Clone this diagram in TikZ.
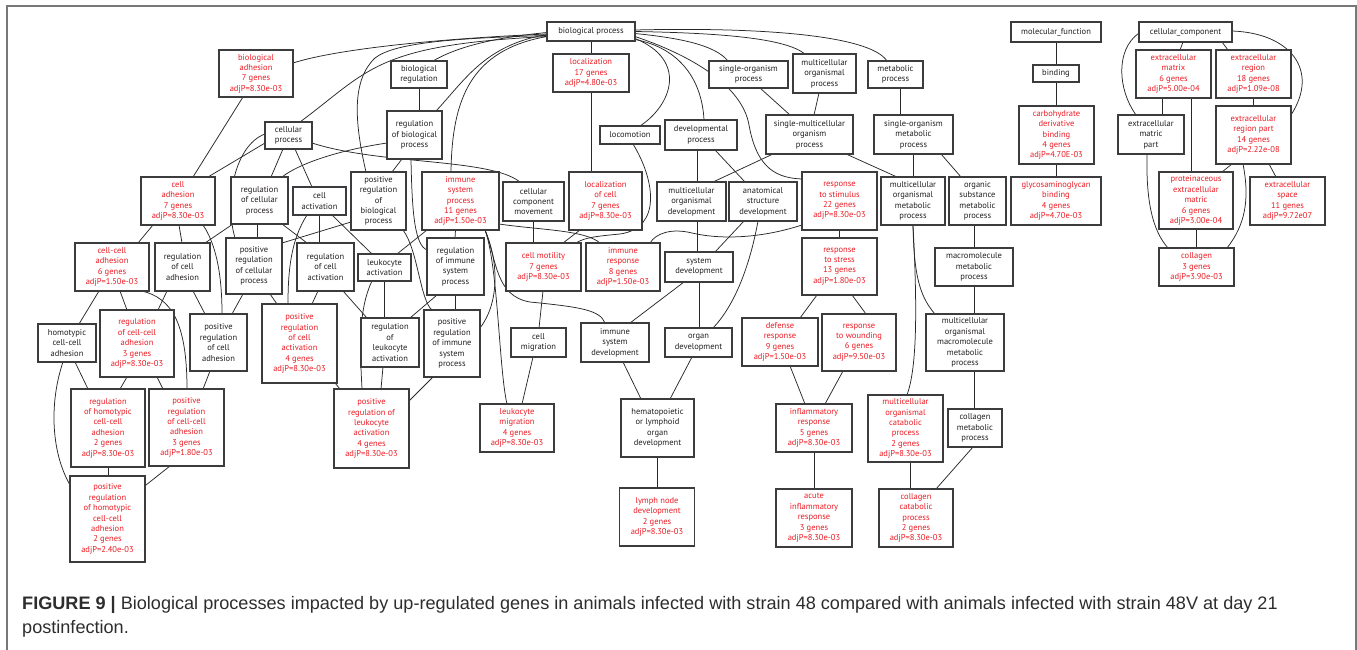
\documentclass[tikz,border=0pt]{standalone}
\usepackage{fontspec}
\usetikzlibrary{backgrounds}
\newfontfamily\gnfam{PT Sans}
\newfontfamily\gcfam{Liberation Sans}
\definecolor{txtk}{RGB}{35,31,32}
\definecolor{txtr}{RGB}{236,28,36}
\definecolor{boxcol}{RGB}{60,60,62}
\definecolor{edgecol}{RGB}{40,40,40}
\definecolor{framecol}{RGB}{120,120,120}
\definecolor{capcol}{RGB}{45,45,45}
\newcommand\gnfont{\gnfam\fontsize{8.5}{10.4}\selectfont}
\tikzset{
  base/.style={draw=boxcol, line width=1.1pt, fill=white, inner sep=0pt, align=center, font=\gnfont},
  kb/.style 2 args={base, text=txtk, minimum width=#1pt, minimum height=#2pt},
  rb/.style 2 args={base, text=txtr, minimum width=#1pt, minimum height=#2pt},
  ln/.style={draw=edgecol, line width=0.75pt},
  captxt/.style={anchor=base west, inner sep=0pt, text=capcol, font=\gcfam\fontsize{18.1}{20}\selectfont}
}
\begin{document}
\begin{tikzpicture}[x=1pt,y=-1pt]
\useasboundingbox (0,0) rectangle (1357,650);
\draw[framecol, line width=1.3pt] (7,650) -- (7,6) -- (1356,6) -- (1356,650);
% row 1
\node[kb={88}{19}] (bp) at (591,31.5) {biological process};
\node[kb={90}{20}] (mf) at (1056,32) {molecular\_function};
\node[kb={93}{20}] (cc) at (1185.5,32) {cellular\_component};
\node[rb={74}{47}] (bad) at (256,73.5) {biological\\adhesion\\7 genes\\adjP=8.30e-03};
\node[kb={56}{27}] (breg) at (419,74.5) {biological\\regulation};
\node[rb={76}{38}] (loc) at (591,73) {localization\\17 genes\\adjP=4.80e-03};
\node[kb={79}{27}] (sop) at (748.5,74.5) {single-organism\\process};
\node[kb={63}{39}] (mop) at (824.5,73.5) {multicellular\\organismal\\process};
\node[kb={55}{27}] (metp) at (895.5,74.5) {metabolic\\process};
\node[kb={46}{17}] (bind) at (1056,73.5) {binding};
\node[rb={75}{48}] (ecm) at (1173.5,74) {extracellular\\matrix\\6 genes\\adjP=5.00e-04};
\node[rb={75}{48}] (ecr) at (1253.5,74) {extracellular\\region\\18 genes\\adjP=1.09e-08};
% row 2
\node[kb={47}{27}] (cp) at (288.5,135.5) {cellular\\process};
\node[kb={55}{48}] (rbp) at (414.5,135) {regulation\\of biological\\process};
\node[kb={60}{18}] (locm) at (630,135) {locomotion};
\node[kb={72}{30}] (devp) at (701,135) {developmental\\process};
\node[kb={87}{39}] (smop) at (809.5,134.5) {single-multicellular\\organism\\process};
\node[kb={79}{39}] (somp) at (913.5,134.5) {single-organism\\metabolic\\process};
\node[rb={75}{58}] (cdb) at (1056.5,135) {carbohydrate\\derivative\\binding\\4 genes\\adjP=4.70E-03};
\node[kb={66}{39}] (ecmp) at (1151,134.5) {extracellular\\matric\\part};
\node[rb={75}{58}] (ecrp) at (1253.5,135) {extracellular\\region part\\14 genes\\adjP=2.22e-08};
% row 3
\node[rb={74}{48}] (cad) at (178,201) {cell\\adhesion\\7 genes\\adjP=8.30e-03};
\node[kb={57}{47}] (rcp) at (259.5,200.5) {regulation\\of cellular\\process};
\node[kb={53}{28}] (cact) at (319.5,201) {cell\\activation};
\node[kb={55}{58}] (prbp) at (378.5,201) {positive\\regulation\\of\\biological\\process};
\node[rb={77}{58}] (isp) at (460.5,201) {immune\\system\\process\\11 genes\\adjP=1.50e-03};
\node[kb={61}{39}] (ccm) at (533.5,201.5) {cellular\\component\\movement};
\node[rb={73}{58}] (locc) at (605.5,201) {localization\\of cell\\7 genes\\adjP=8.30e-03};
\node[kb={69}{39}] (mod) at (691.5,201.5) {multicellular\\organismal\\development};
\node[kb={68}{39}] (asd) at (763,201.5) {anatomical\\structure\\development};
\node[rb={75}{58}] (rstim) at (839.5,201) {response\\to stimulus\\22 genes\\adjP=8.30e-03};
\node[kb={64}{48}] (mompm) at (913,201) {multicellular\\organismal\\metabolic\\process};
\node[kb={57}{48}] (osmp) at (977.5,201) {organic\\substance\\metabolic\\process};
\node[rb={90}{48}] (gagb) at (1056,201) {glycosaminoglycan\\binding\\4 genes\\adjP=4.70e-03};
\node[rb={74}{57}] (pecm) at (1196,200.5) {proteinaceous\\extracellular\\matric\\6 genes\\adjP=3.00e-04};
\node[rb={75}{48}] (ecs) at (1287.5,201) {extracellular\\space\\11 genes\\adjP=9.72e07};
% row 4
\node[rb={74}{48}] (cca) at (112,267) {cell-cell\\adhesion\\6 genes\\adjP=1.50e-03};
\node[kb={55}{48}] (rca) at (182.5,267) {regulation\\of cell\\adhesion};
\node[kb={56}{56}] (prcp) at (254,266) {positive\\regulation\\of cellular\\process};
\node[kb={57}{48}] (rcact) at (325.5,267) {regulation\\of cell\\activation};
\node[kb={53}{27}] (lact) at (384.5,267.5) {leukocyte\\activation};
\node[kb={57}{57}] (risp) at (455.5,266.5) {regulation\\of immune\\system\\process};
\node[rb={75}{48}] (cmot) at (543.5,267) {cell motility\\7 genes\\adjP=8.30e-03};
\node[rb={74}{48}] (iresp) at (623,267) {immune\\response\\8 genes\\adjP=1.50e-03};
\node[kb={68}{30}] (sysd) at (699,267) {system\\development};
\node[rb={75}{57}] (rstr) at (839.5,266.5) {response\\to stress\\13 genes\\adjP=1.80e-03};
\node[kb={78}{38}] (mmp) at (974,267) {macromolecule\\metabolic\\process};
\node[rb={75}{38}] (coll) at (1196.5,267) {collagen\\3 genes\\adjP=3.90e-03};
% row 5
\node[kb={58}{38}] (hcca) at (67,343) {homotypic\\cell-cell\\adhesion};
\node[rb={74}{67}] (rcca) at (137,343.5) {regulation\\of cell-cell\\adhesion\\3 genes\\adjP=8.30e-03};
\node[kb={57}{57}] (prca) at (218.5,342.5) {positive\\regulation\\of cell\\adhesion};
\node[rb={75}{79}] (prcact) at (299.5,343.5) {positive\\regulation\\of cell\\activation\\4 genes\\adjP=8.30e-03};
\node[kb={58}{49}] (rlact) at (390,342.5) {regulation\\of\\leukocyte\\activation};
\node[kb={56}{67}] (prisp) at (452,343.5) {positive\\regulation\\of immune\\system\\process};
\node[kb={55}{29}] (cmig) at (538.5,342.5) {cell\\migration};
\node[kb={68}{39}] (isd) at (615,342.5) {immune\\system\\development};
\node[kb={67}{29}] (orgd) at (698.5,342.5) {organ\\development};
\node[rb={76}{48}] (defr) at (780,342) {defense\\response\\9 genes\\adjP=1.50e-03};
\node[rb={74}{57}] (rwound) at (859,342.5) {response\\to wounding\\6 genes\\adjP=9.50e-03};
\node[kb={78}{57}] (mommp) at (965,342.5) {multicellular\\organismal\\macromolecule\\metabolic\\process};
% row 6
\node[rb={74}{78}] (rhcca) at (108,428) {regulation\\of homotypic\\cell-cell\\adhesion\\2 genes\\adjP=8.30e-03};
\node[rb={75}{77}] (prcca) at (186.5,427.5) {positive\\regulation\\of cell-cell\\adhesion\\3 genes\\adjP=1.80e-03};
\node[rb={75}{79}] (prlact) at (371.5,428.5) {positive\\regulation of\\leukocyte\\activation\\4 genes\\adjP=8.30e-03};
\node[rb={74}{48}] (lmig) at (517,428) {leukocyte\\migration\\4 genes\\adjP=8.30e-03};
\node[kb={73}{58}] (hem) at (657.5,428) {hematopoietic\\or lymphoid\\organ\\development};
\node[rb={76}{48}] (infl) at (814,428) {inflammatory\\response\\5 genes\\adjP=8.30e-03};
\node[rb={75}{67}] (mocp) at (905.5,428.5) {multicellular\\organismal\\catabolic\\process\\2 genes\\adjP=8.30e-03};
\node[kb={54}{38}] (cmp) at (975,428) {collagen\\metabolic\\process};
% row 7
\node[rb={75}{86}] (prhcca) at (107.5,519) {positive\\regulation\\of homotypic\\cell-cell\\adhesion\\2 genes\\adjP=2.40e-03};
\node[rb={75}{58}] (lymph) at (657,517) {lymph node\\development\\2 genes\\adjP=8.30e-03};
\node[rb={76}{58}] (acute) at (814,518) {acute\\inflammatory\\response\\3 genes\\adjP=8.30e-03};
\node[rb={74}{58}] (colcat) at (916,518) {collagen\\catabolic\\process\\2 genes\\adjP=8.30e-03};
% caption
\node[captxt] (cap1) at (22,609) {\textbf{FIGURE 9 |} Biological processes impacted by up-regulated genes in animals infected with strain 48 compared with animals infected with strain 48V at day 21};
\node[captxt] (cap2) at (22,633) {postinfection.};
\begin{pgfonlayer}{background}
% from biological process
\draw[ln] (bp.south) -- (loc.north);
\draw[ln] ([shift={(-44,2.5)}]bp.center) .. controls (450,38) and (340,48) .. ([shift={(37,-10.5)}]bad.center);
\draw[ln] ([shift={(11.5,-13.5)}]cp.center) .. controls (370,70) and (375,45) .. ([shift={(-44,5)}]bp.center);
\draw[ln] ([shift={(-12.5,-29)}]prbp.center) .. controls (354,120) and (352,80) .. (375,58) .. controls (395,42) and (460,38) .. ([shift={(-44,4)}]bp.center);
\draw[ln] ([shift={(14,-13.5)}]breg.center) .. controls (455,48) and (490,38) .. ([shift={(-44,1)}]bp.center);
\draw[ln] ([shift={(21.5,-24)}]rbp.center) .. controls (465,80) and (485,45) .. ([shift={(-44,3)}]bp.center);
\draw[ln] ([shift={(-9.5,-29)}]isp.center) .. controls (452,100) and (470,50) .. ([shift={(-44,5)}]bp.center);
\draw[ln] ([shift={(10,-9)}]locm.center) .. controls (672,105) and (688,60) .. ([shift={(44,7)}]bp.center);
\draw[ln] ([shift={(3,-15)}]devp.center) .. controls (702,80) and (680,48) .. ([shift={(44,8)}]bp.center);
\draw[ln] ([shift={(44,2)}]bp.center) .. controls (680,38) and (715,45) .. ([shift={(-20.5,-13.5)}]sop.center);
\draw[ln] ([shift={(44,0)}]bp.center) .. controls (720,33) and (785,38) .. ([shift={(-19.5,-19.5)}]mop.center);
\draw[ln] ([shift={(44,-1.5)}]bp.center) .. controls (760,27) and (870,35) .. ([shift={(-8.5,-13.5)}]metp.center);
\draw[ln] ([shift={(44,5)}]bp.center) .. controls (690,55) and (742,85) .. (749,125) .. controls (757,170) and (778,178) .. ([shift={(-37.5,-22)}]rstim.center);
% left part
\draw[ln] (breg.south) -- (breg.south |- rbp.north);
\draw[ln] ([shift={(-13,23.5)}]bad.center) -- ([shift={(15,-24)}]cad.center);
\draw[ln] ([shift={(-23.5,7.5)}]cp.center) -- ([shift={(30,-24)}]cad.center);
\draw[ln] ([shift={(-23.5,-1.5)}]cp.center) .. controls (235,145) and (224,200) .. ([shift={(-19,-28)}]prcp.center);
\draw[ln] ([shift={(11.5,-23.5)}]rcp.center) -- ([shift={(-5.5,13.5)}]cp.center);
\draw[ln] ([shift={(6.5,13.5)}]cp.center) -- ([shift={(-7.5,-14)}]cact.center);
\draw[ln] ([shift={(23.5,7.5)}]cp.center) .. controls (380,165) and (490,158) .. ([shift={(-13.5,-19.5)}]ccm.center);
\draw[ln] ([shift={(-27.5,8)}]rbp.center) .. controls (340,150) and (300,163) .. ([shift={(22.5,-23.5)}]rcp.center);
\draw[ln] ([shift={(-12.5,24)}]rbp.center) -- ([shift={(13.5,-29)}]prbp.center);
\draw[ln] ([shift={(-3.5,24)}]rbp.center) .. controls (412,215) and (415,245) .. ([shift={(-28.5,-16.5)}]risp.center);
\draw[ln] ([shift={(24.5,29)}]prbp.center) .. controls (418,250) and (420,300) .. ([shift={(-20,-33.5)}]prisp.center);
\draw[ln] ([shift={(-27.5,21)}]prbp.center) -- ([shift={(28,-23)}]prcp.center);
\draw[ln] ([shift={(-2.5,23.5)}]rcp.center) -- ([shift={(3,-28)}]prcp.center);
\draw[ln] ([shift={(-26.5,23.5)}]rcp.center) -- ([shift={(22.5,-24)}]rca.center);
\draw[ln] ([shift={(25,24)}]cad.center) .. controls (220,250) and (222,290) .. ([shift={(3.5,-28.5)}]prca.center);
\draw[ln] ([shift={(-25,24)}]cad.center) -- ([shift={(26,-24)}]cca.center);
\draw[ln] ([shift={(1,24)}]cad.center) -- ([shift={(-0.5,-24)}]rca.center);
\draw[ln] ([shift={(-11,28)}]prcp.center) -- ([shift={(13.5,-28.5)}]prca.center);
\draw[ln] ([shift={(16,28)}]prcp.center) -- ([shift={(-22.5,-39.5)}]prcact.center);
\draw[ln] ([shift={(22.5,23.5)}]rcp.center) -- ([shift={(-18.5,-24)}]rcact.center);
\draw[ln] (cact.south) -- (cact.south |- rcact.north);
\draw[ln] ([shift={(-12.5,14)}]cact.center) .. controls (291,240) and (288,270) .. ([shift={(-11.5,-39.5)}]prcact.center);
\draw[ln] ([shift={(12.5,14)}]cact.center) -- ([shift={(-12.5,-13.5)}]lact.center);
\draw[ln] ([shift={(-7.5,24)}]rcact.center) -- ([shift={(12.5,-39.5)}]prcact.center);
\draw[ln] ([shift={(17.5,24)}]rcact.center) -- ([shift={(-23,-24.5)}]rlact.center);
\draw[ln] ([shift={(-33.5,29)}]isp.center) -- ([shift={(12.5,-13.5)}]lact.center);
\draw[ln] (lact.south) -- (lact.south |- rlact.north);
\draw[ln] ([shift={(-12.5,13.5)}]lact.center) .. controls (358,310) and (360,350) .. ([shift={(-9.5,-39.5)}]prlact.center);
\draw[ln] ([shift={(20,-24.5)}]rlact.center) -- ([shift={(-18.5,28.5)}]risp.center);
\draw[ln] ([shift={(-7,24.5)}]rlact.center) -- ([shift={(9.5,-39.5)}]prlact.center);
\draw[ln] ([shift={(35.5,39.5)}]prcact.center) -- ([shift={(-31.5,-39.5)}]prlact.center);
\draw[ln] ([shift={(-19,33.5)}]prisp.center) -- ([shift={(37.5,-27.5)}]prlact.center);
\draw[ln] ([shift={(-5,29)}]isp.center) -- ([shift={(-0.5,-28.5)}]risp.center);
\draw[ln] (risp.south) -- (risp.south |- prisp.north);
\draw[ln] ([shift={(24.5,29)}]isp.center) .. controls (500,265) and (498,305) .. ([shift={(28,-15.5)}]prisp.center);
\draw[ln] ([shift={(24.5,29)}]isp.center) .. controls (497,260) and (495,296) .. (530,302) .. controls (580,307) and (600,310) .. ([shift={(-10,-19.5)}]isd.center);
\draw[ln] ([shift={(24.5,29)}]isp.center) .. controls (498,265) and (499,370) .. ([shift={(-10,-24)}]lmig.center);
\draw[ln] ([shift={(38.5,23)}]isp.center) .. controls (540,230) and (585,230) .. ([shift={(-23,-24)}]iresp.center);
\draw[ln] (ccm.south) -- (ccm.south |- cmot.north);
\draw[ln] ([shift={(-25.5,29)}]locc.center) -- ([shift={(19.5,-24)}]cmot.center);
\draw[ln] ([shift={(3,9)}]locm.center) .. controls (655,180) and (662,228) .. (620,234) .. controls (600,236) and (585,237) .. ([shift={(32.5,-24)}]cmot.center);
\draw[ln] ([shift={(-37.5,24)}]rstim.center) .. controls (762,238) and (722,240) .. (692,233) .. controls (672,228) and (656,233) .. ([shift={(27,-24)}]iresp.center);
\draw[ln] (loc.south) -- (loc.south |- locc.north);
\draw[ln] ([shift={(-0.5,24)}]cmot.center) -- ([shift={(0.5,-14.5)}]cmig.center);
\draw[ln] ([shift={(-5.5,14.5)}]cmig.center) -- ([shift={(5,-24)}]lmig.center);
% development / organism
\draw[ln] ([shift={(-4,15)}]devp.center) -- ([shift={(5.5,-19.5)}]mod.center);
\draw[ln] ([shift={(14,15)}]devp.center) -- ([shift={(-18,-19.5)}]asd.center);
\draw[ln] ([shift={(11.5,13.5)}]sop.center) -- ([shift={(-19.5,-19.5)}]smop.center);
\draw[ln] ([shift={(-5.5,19.5)}]mop.center) -- ([shift={(4.5,-19.5)}]smop.center);
\draw[ln] ([shift={(-36.5,19.5)}]smop.center) -- ([shift={(21.5,-19.5)}]mod.center);
\draw[ln] ([shift={(36.5,19.5)}]smop.center) -- ([shift={(-16,-24)}]mompm.center);
\draw[ln] ([shift={(4.5,13.5)}]metp.center) -- ([shift={(-13.5,-19.5)}]somp.center);
\draw[ln] (somp.south) -- (somp.south |- mompm.north);
\draw[ln] ([shift={(27.5,19.5)}]somp.center) -- ([shift={(-16.5,-24)}]osmp.center);
\draw[ln] (mompm.south) .. controls (914,270) and (918,295) .. ([shift={(-30,-28.5)}]mommp.center);
\draw[ln] (mompm.south) .. controls (918,320) and (916,370) .. ([shift={(1.5,-33.5)}]mocp.center);
\draw[ln] ([shift={(-3.5,24)}]osmp.center) -- (mmp.north);
\draw[ln] (mmp.south) -- (mmp.south |- mommp.north);
\draw[ln] ([shift={(9,28.5)}]mommp.center) -- ([shift={(-1,-19)}]cmp.center);
\draw[ln] ([shift={(-2,19)}]cmp.center) -- ([shift={(20,-29)}]colcat.center);
\draw[ln] ([shift={(4.5,33.5)}]mocp.center) -- ([shift={(-6,-29)}]colcat.center);
\draw[ln] ([shift={(5.5,19.5)}]mod.center) -- ([shift={(-2,-15)}]sysd.center);
\draw[ln] ([shift={(-19,19.5)}]asd.center) -- ([shift={(16,-15)}]sysd.center);
\draw[ln] ([shift={(-5,19.5)}]asd.center) .. controls (750,265) and (735,305) .. ([shift={(14.5,-14.5)}]orgd.center);
\draw[ln] (sysd.south) -- (sysd.south |- orgd.north);
\draw[ln] ([shift={(-15,15)}]sysd.center) -- ([shift={(15,-19.5)}]isd.center);
\draw[ln] ([shift={(8,19.5)}]isd.center) -- ([shift={(-16.5,-29)}]hem.center);
\draw[ln] ([shift={(-6.5,14.5)}]orgd.center) -- ([shift={(12.5,-29)}]hem.center);
\draw[ln] (hem.south) -- (hem.south |- lymph.north);
\draw[ln] (rstim.south) -- (rstr.north);
\draw[ln] ([shift={(-22.5,28.5)}]rstr.center) -- ([shift={(20,-24)}]defr.center);
\draw[ln] ([shift={(12.5,28.5)}]rstr.center) -- ([shift={(7,-28.5)}]rwound.center);
\draw[ln] ([shift={(10,24)}]defr.center) -- ([shift={(-9,-24)}]infl.center);
\draw[ln] ([shift={(-16,28.5)}]rwound.center) -- ([shift={(11,-24)}]infl.center);
\draw[ln] (infl.south) -- (infl.south |- acute.north);
% molecular function
\draw[ln] (mf.south) -- (bind.north);
\draw[ln] (bind.south) -- (bind.south |- cdb.north);
\draw[ln] (gagb.north |- cdb.south) -- (gagb.north);
% cellular component
\draw[ln] ([shift={(-2.5,10)}]cc.center) -- ([shift={(6.5,-24)}]ecm.center);
\draw[ln] ([shift={(36.5,10)}]cc.center) -- ([shift={(-25.5,-24)}]ecr.center);
\draw[ln] ([shift={(-46.5,1)}]cc.center) .. controls (1115,50) and (1118,90) .. ([shift={(-15,-19.5)}]ecmp.center);
\draw[ln] ([shift={(46.5,-1)}]cc.center) .. controls (1290,33) and (1320,70) .. ([shift={(37.5,-20)}]ecrp.center);
\draw[ln] ([shift={(-11.5,24)}]ecm.center) -- ([shift={(11,-19.5)}]ecmp.center);
\draw[ln] ([shift={(17.5,24)}]ecm.center) -- ([shift={(-5,-28.5)}]pecm.center);
\draw[ln] (ecr.south) -- (ecrp.north);
\draw[ln] ([shift={(-21.5,29)}]ecrp.center) -- ([shift={(26,-28.5)}]pecm.center);
\draw[ln] ([shift={(15.5,29)}]ecrp.center) -- ([shift={(-11.5,-24)}]ecs.center);
\draw[ln] ([shift={(-10.5,29)}]ecrp.center) .. controls (1250,200) and (1245,225) .. ([shift={(30.5,-19)}]coll.center);
\draw[ln] ([shift={(-4,19.5)}]ecmp.center) .. controls (1146,200) and (1152,230) .. ([shift={(-28.5,-19)}]coll.center);
\draw[ln] (pecm.south) -- (pecm.south |- coll.north);
% cell adhesion family
\draw[ln] ([shift={(-13,24)}]cca.center) -- ([shift={(12,-19)}]hcca.center);
\draw[ln] ([shift={(8,24)}]cca.center) -- ([shift={(-10,-33.5)}]rcca.center);
\draw[ln] ([shift={(30,24)}]cca.center) .. controls (170,298) and (187,320) .. ([shift={(0.5,-38.5)}]prcca.center);
\draw[ln] ([shift={(-15.5,24)}]rca.center) -- ([shift={(21,-33.5)}]rcca.center);
\draw[ln] ([shift={(10.5,24)}]rca.center) -- ([shift={(-13.5,-28.5)}]prca.center);
\draw[ln] ([shift={(8,19)}]hcca.center) -- ([shift={(-20,-39)}]rhcca.center);
\draw[ln] ([shift={(-4,19)}]hcca.center) .. controls (50,400) and (50,450) .. ([shift={(-37.5,-34)}]prhcca.center);
\draw[ln] ([shift={(-10,33.5)}]rcca.center) -- ([shift={(12,-39)}]rhcca.center);
\draw[ln] ([shift={(20,33.5)}]rcca.center) -- ([shift={(-23.5,-38.5)}]prcca.center);
\draw[ln] ([shift={(-8.5,28.5)}]prca.center) -- ([shift={(16.5,-38.5)}]prcca.center);
\draw[ln] (rhcca.south) -- (rhcca.south |- prhcca.north);
\draw[ln] ([shift={(-16.5,38.5)}]prcca.center) -- ([shift={(38.5,-34)}]prhcca.center);
\end{pgfonlayer}
\end{tikzpicture}
\end{document}
